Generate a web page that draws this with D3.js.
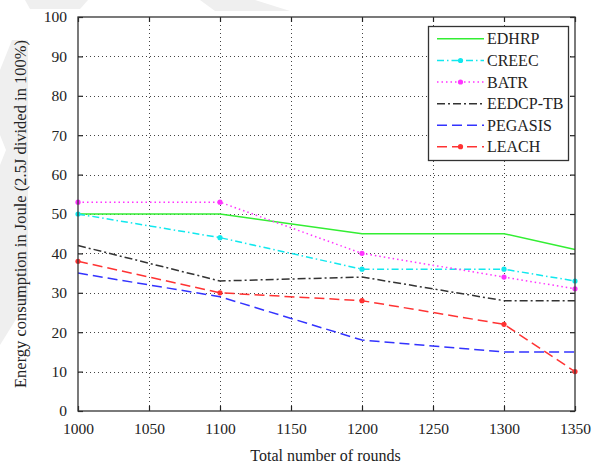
<!DOCTYPE html>
<html>
<head>
<meta charset="utf-8">
<script src="https://cdn.jsdelivr.net/npm/d3@7"></script>
<style>
html,body{margin:0;padding:0;background:#fff;}
svg{display:block;}
svg text{font-family:"Liberation Serif","Times New Roman",serif;}
</style>
</head>
<body>
<svg id="chart" width="604" height="466"></svg>
<script>
// ---- data ----
const rounds = [1000, 1100, 1200, 1300, 1350];
const edhrp   = [50, 50, 45, 45, 41];
const creec   = [50, 44, 36, 36, 33];
const batr    = [53, 53, 40, 34, 31];
const eedcpTb = [42, 33, 34, 28, 28];
const pegasis = [35, 29, 18, 15, 15];
const leach   = [38, 30, 28, 22, 10];
const seriesNames = ["EDHRP", "CREEC", "BATR", "EEDCP-TB", "PEGASIS", "LEACH"];
const xTicks = [1000, 1050, 1100, 1150, 1200, 1250, 1300, 1350];
const yTicks = [0, 10, 20, 30, 40, 50, 60, 70, 80, 90, 100];
const xTitle = "Total number of rounds";
const yTitle = "Energy consumption in Joule (2.5J divided in 100%)";

const seriesValues = [edhrp, creec, batr, eedcpTb, pegasis, leach];
const styles = [
  {color: "#33ee33", dash: null,          marker: false},
  {color: "#11e8ee", dash: "7,3,1.5,3",   marker: true},
  {color: "#ff33ff", dash: "1.5,3",       marker: true},
  {color: "#333333", dash: "8,3,2,3",     marker: false},
  {color: "#3333ff", dash: "10,5",        marker: false},
  {color: "#ff3333", dash: "10,5",        marker: true}
];

const svg = d3.select("#chart");
const L = 78, R = 575, T = 17, B = 411;
const x = d3.scaleLinear().domain([1000, 1350]).range([L, R]);
const y = d3.scaleLinear().domain([0, 100]).range([B, T]);

// faint watermark shapes in the background
const wm = svg.append("g").attr("fill", "#efefef");
wm.append("polygon").attr("points", "25,0 88,0 80,9 30,9");
wm.append("polygon").attr("points", "200,0 255,0 290,11 215,11");
wm.append("polygon").attr("points", "12,40 28,40 28,300 0,345 0,165 6,150 0,135 0,70");

// grid
const grid = svg.append("g").attr("stroke", "#444").attr("stroke-width", 1)
  .attr("stroke-dasharray", "1,3");
grid.selectAll("line.gx").data(xTicks.slice(1, -1)).join("line")
  .attr("x1", d => Math.round(x(d)) + 0.5).attr("x2", d => Math.round(x(d)) + 0.5)
  .attr("y1", T).attr("y2", B);
grid.selectAll("line.gy").data(yTicks.slice(1, -1)).join("line")
  .attr("y1", d => Math.round(y(d)) + 0.5).attr("y2", d => Math.round(y(d)) + 0.5)
  .attr("x1", L).attr("x2", R);

// axes
const fs = 15.5;
const axB = svg.append("g").attr("transform", `translate(0,${B})`)
  .call(d3.axisBottom(x).tickValues(xTicks).tickFormat(d3.format("d")).tickSize(-5).tickSizeOuter(0).tickPadding(12.2));
const axL = svg.append("g").attr("transform", `translate(${L},0)`)
  .call(d3.axisLeft(y).tickValues(yTicks).tickSize(-5).tickSizeOuter(0).tickPadding(11));
const axT = svg.append("g").attr("transform", `translate(0,${T})`)
  .call(d3.axisTop(x).tickValues(xTicks).tickFormat("").tickSize(-5).tickSizeOuter(0));
const axR = svg.append("g").attr("transform", `translate(${R},0)`)
  .call(d3.axisRight(y).tickValues(yTicks).tickFormat("").tickSize(-5).tickSizeOuter(0));
[axB, axL, axT, axR].forEach(a => {
  a.attr("font-family", null);
  a.select(".domain").remove();
  a.selectAll(".tick line").attr("stroke", "#222").attr("stroke-width", 1.2);
  a.selectAll("text").attr("font-size", fs).attr("fill", "#222");
});

// series lines
const lineGen = d3.line().x((d, i) => x(rounds[i])).y(d => y(d));
const plot = svg.append("g");
seriesValues.forEach((vals, k) => {
  const st = styles[k];
  plot.append("path").datum(vals).attr("d", lineGen)
    .attr("fill", "none").attr("stroke", st.color).attr("stroke-width", 1.5)
    .attr("stroke-dasharray", st.dash);
  if (st.marker) {
    plot.selectAll(null).data(vals).join("circle")
      .attr("cx", (d, i) => x(rounds[i])).attr("cy", d => y(d)).attr("r", 2.6)
      .attr("fill", st.color);
  }
});

// plot frame
svg.append("rect").attr("x", L).attr("y", T).attr("width", R - L).attr("height", B - T)
  .attr("fill", "none").attr("stroke", "#333").attr("stroke-width", 1.3);

// legend
const lg = svg.append("g");
lg.append("rect").attr("x", 428.5).attr("y", 26.5).attr("width", 140).attr("height", 134)
  .attr("fill", "#fff").attr("stroke", "#333").attr("stroke-width", 1.3);
const rowY = [38.7, 60.5, 82, 103.8, 125.2, 146.7];
seriesNames.forEach((name, k) => {
  const st = styles[k];
  const ry = rowY[k];
  lg.append("line").attr("x1", 437).attr("x2", 484).attr("y1", ry).attr("y2", ry)
    .attr("stroke", st.color).attr("stroke-width", 1.5).attr("stroke-dasharray", st.dash);
  if (st.marker) lg.append("circle").attr("cx", 460.5).attr("cy", ry).attr("r", 2.6).attr("fill", st.color);
  lg.append("text").attr("x", 487).attr("y", ry).attr("dy", "0.35em")
    .attr("font-size", 16).attr("fill", "#222").text(name);
});

// titles
svg.append("text").attr("x", 325.5).attr("y", 461).attr("text-anchor", "middle")
  .attr("font-size", 16).attr("fill", "#222").text(xTitle);
svg.append("text").attr("transform", `translate(26,${(T + B) / 2}) rotate(-90)`)
  .attr("text-anchor", "middle").attr("font-size", 16.5).attr("fill", "#222").text(yTitle);
</script>
</body>
</html>
